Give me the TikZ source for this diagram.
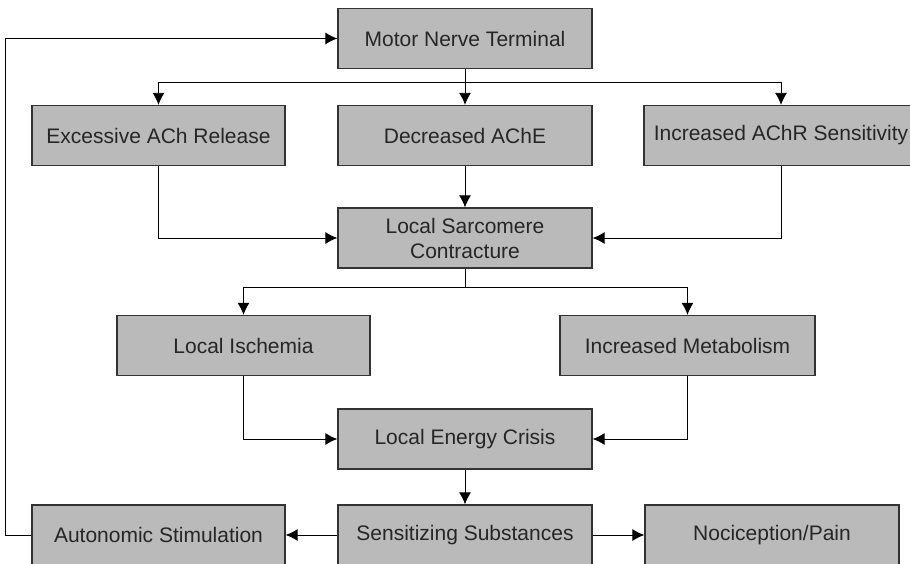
\documentclass[tikz,border=0pt]{standalone}
\usepackage{fontspec}
\setmainfont{Liberation Sans}
\usepackage{xcolor}
\usetikzlibrary{arrows.meta}
\usetikzlibrary{positioning}
\definecolor{Kastengrau}{gray}{0.73}
\tikzset{
  Kasten/.style={draw=black!80, line width=1.3pt, fill=Kastengrau,
    text=black!85, minimum height=60pt, minimum width=#1, inner sep=0pt,
    align=center, font={\fontsize{21}{25}\selectfont}}, % für Kästen
  Kasten/.default=254pt,
  Pfeil/.style={line width=0.9pt, ->} % für Pfeile
}

\begin{document}
\begin{tikzpicture}[x=1pt, y=-1pt,
>={Latex[length=12pt,width=12pt]} % Voreinstellung für Pfeilspitzen
]
\useasboundingbox (0,0) rectangle (910,564);

%Kästen
\node[Kasten] (MNT) at (465,38.5) {Motor Nerve Terminal};
\node[Kasten=253pt] (ACh) at (158.5,135.5) {Excessive ACh Release};
\node[Kasten] (AChE) at (465,135.5) {Decreased AChE};
\node[Kasten=274pt] (AChR) at (781,135.5) {Increased AChR Sensitivity};
\node[Kasten] (LSK) at (465,238) {Local Sarcomere\\Contracture};
\node[Kasten=253pt] (Isch) at (243.5,345.5) {Local Ischemia};
\node[Kasten=255pt] (Meta) at (687.5,345.5) {Increased Metabolism};
\node[Kasten] (LEK) at (465,439) {Local Energy Crisis};
\node[Kasten] (Sens) at (465,535) {Sensitizing Substances};
\node[Kasten=253pt] (Auto) at (158.5,535) {Autonomic Stimulation};
\node[Kasten] (Noz) at (772,535) {Nociception/Pain};

%Verzweigungen
\path (MNT.south) ++(0,13) coordinate (V1);
\path (LSK.south) ++(0,19) coordinate (V2);
\path (Auto.west) ++(-26,0) coordinate (R1);

%Pfeile
\draw[Pfeil] (MNT.south) -- (AChE.north);
\draw[Pfeil] (V1) -| (ACh.north);
\draw[Pfeil] (V1) -| (AChR.north);
\draw[Pfeil] (ACh.south) |- (LSK.west);
\draw[Pfeil] (AChE.south) -- (LSK.north);
\draw[Pfeil] (AChR.south) |- (LSK.east);
\draw[Pfeil,-] (LSK.south) -- (V2);
\draw[Pfeil] (V2) -| (Isch.north);
\draw[Pfeil] (V2) -| (Meta.north);
\draw[Pfeil] (Isch.south) |- (LEK.west);
\draw[Pfeil] (Meta.south) |- (LEK.east);
\draw[Pfeil] (LEK.south) -- (Sens.north);
\draw[Pfeil] (Sens.west) -- (Auto.east);
\draw[Pfeil] (Sens.east) -- (Noz.west);

%Rückkopplung
\draw[Pfeil] (Auto.west) -- (R1) |- (MNT.west);

\end{tikzpicture}
\end{document}
